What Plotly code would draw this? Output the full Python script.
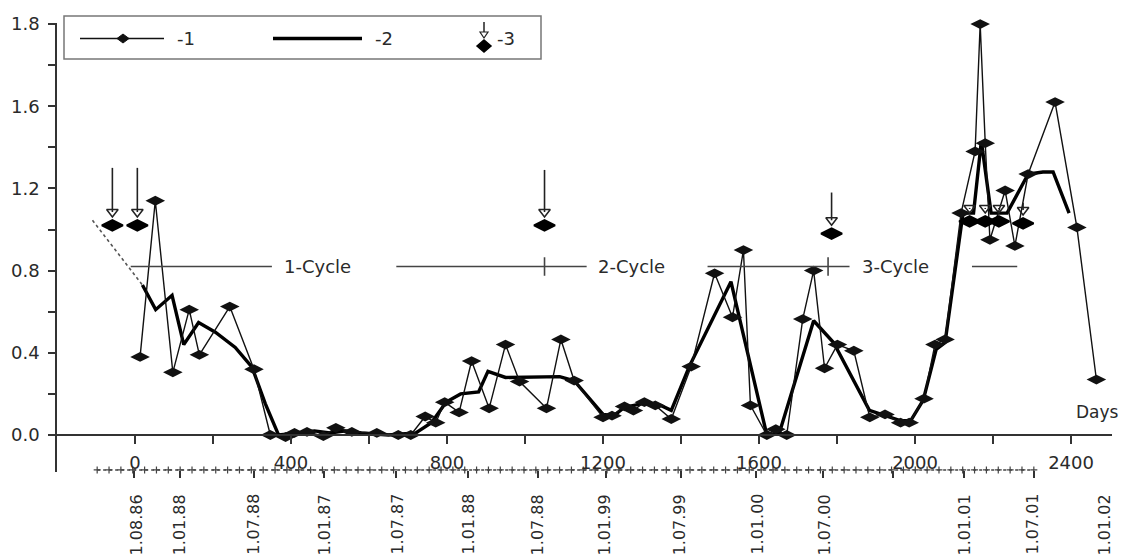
import numpy as np
import plotly.graph_objects as go

# ---------------- data ----------------
# series "-1": thin line with diamond markers (days, value)
s1_days = [13, 52, 97, 139, 165, 243, 305, 347, 386, 409, 441, 483, 515, 556, 620, 675, 707,
           744, 771, 794, 831, 863, 908, 950, 986, 1055, 1092, 1126, 1200, 1223, 1255, 1278,
           1306, 1334, 1375, 1426, 1486, 1532, 1560, 1578, 1620, 1643, 1671, 1712, 1740, 1768,
           1801, 1843, 1884, 1923, 1963, 1985, 2023, 2051, 2077, 2118, 2154, 2167, 2180, 2192,
           2231, 2256, 2290, 2359, 2415, 2465]
s1_vals = [0.38, 1.14, 0.305, 0.61, 0.39, 0.625, 0.32, 0.0, -0.01, 0.01, 0.015, -0.005, 0.035,
           0.015, 0.01, 0.0, 0.0, 0.09, 0.06, 0.16, 0.11, 0.36, 0.13, 0.44, 0.26, 0.13, 0.465,
           0.265, 0.086, 0.094, 0.139, 0.119, 0.16, 0.144, 0.078, 0.333, 0.787, 0.573, 0.90,
           0.144, 0.0, 0.028, 0.0, 0.564, 0.80, 0.325, 0.44, 0.41, 0.086, 0.10, 0.06, 0.06,
           0.177, 0.44, 0.465, 1.08, 1.38, 2.0, 1.42, 0.95, 1.19, 0.92, 1.27, 1.62, 1.01, 0.27]

# series "-2": thick smoothed line
s2_days = [19, 31, 53, 95, 125, 163, 206, 257, 300, 334, 368, 420, 460, 500, 540, 580, 650, 720,
           760, 798, 835, 881, 905, 950, 1000, 1060, 1089, 1126, 1200, 1228, 1255, 1306, 1348,
           1375, 1421, 1528, 1620, 1652, 1740, 1791, 1883, 1962, 1989, 2021, 2054, 2077, 2123,
           2150, 2170, 2195, 2236, 2290, 2328, 2354, 2395]
s2_vals = [0.73, 0.69, 0.61, 0.68, 0.44, 0.547, 0.50, 0.426, 0.33, 0.153, 0.0, 0.01, 0.02, 0.01,
           0.02, 0.01, 0.0, 0.01, 0.06, 0.16, 0.20, 0.21, 0.31, 0.28, 0.28, 0.28, 0.284, 0.264,
           0.10, 0.094, 0.135, 0.155, 0.144, 0.12, 0.333, 0.746, 0.0, 0.01, 0.556, 0.45, 0.12,
           0.07, 0.07, 0.17, 0.416, 0.45, 1.08, 1.08, 1.43, 1.08, 1.08, 1.27, 1.28, 1.28, 1.08]

# dotted extrapolation at the start of series 2
dot_days = [-109, 19]
dot_vals = [1.045, 0.73]

# series "-3": points marked with arrows
s3_days = [-58, 6, 1050, 1786, 2140, 2180, 2215, 2277]
s3_vals = [1.02, 1.02, 1.02, 0.98, 1.04, 1.04, 1.04, 1.03]
s3_arrow_top = [1.30, 1.30, 1.29, 1.18, 1.10, 1.10, 1.10, 1.13]

# cycles
cycle_names = ["1-Cycle", "2-Cycle", "3-Cycle"]
cycle_start = [-11, 670, 1468]
cycle_end = [351, 1158, 1832]
cycle_mark = [None, 1050, 1777]
cycle_text_at = [376, 1182, 1860]
cycle_tail = [2146, 2262]
cycle_level = 0.82

# axis ticks
day_ticks = [0, 200, 400, 600, 800, 1000, 1200, 1400, 1600, 1800, 2000, 2200, 2400]
day_labels = ["0", "", "400", "", "800", "", "1200", "", "1600", "", "2000", "", "2400"]
y_ticks = [0.0, 0.2, 0.4, 0.6, 0.8, 1.0, 1.2, 1.4, 1.6, 1.8, 2.0]
y_labels = ["0.0", "", "0.4", "", "0.8", "", "1.2", "", "1.6", "", "1.8"]

date_tick_days = [-3, 115, 305, 485, 670, 854, 1032, 1207, 1400, 1592, 1765, 1944, 2125, 2305]
date_label_days = [5, 115, 303, 487, 672, 854, 1033, 1205, 1397, 1595, 1769, 2128, 2300, 2487]
date_labels = ["1.08.86", "1.01.88", "1.07.88", "1.01.87", "1.07.87", "1.01.88",
               "1.07.88", "1.01.99", "1.07.99", "1.01.00", "1.07.00", "1.01.01",
               "1.07.01", "1.01.02"]
month_ticks = np.arange(-97, 2314, 30.4)

# ---------------- geometry / style ----------------
W, H = 1123, 558
ML, MR, MT, MB = 57, 11, 23, 86
X_MIN, X_MAX = -200, 2505
Y_MIN, Y_MAX = -0.18, 2.005
DATE_LINE_V = -0.17
FONT = "DejaVu Sans"
TXT = "#2a2a2a"
AX = "#333333"

pw, ph = W - ML - MR, H - MT - MB


def xp(px):
    return (px - ML) / pw


def yp(py):
    return (H - MB - py) / ph


fig = go.Figure()

fig.add_trace(go.Scatter(x=dot_days, y=dot_vals, mode="lines",
                         line=dict(color="#555", width=1.6, dash="dot"),
                         showlegend=False, hoverinfo="skip"))

fig.add_trace(go.Scatter(x=s2_days, y=s2_vals, mode="lines", name="-2",
                         line=dict(color="#000", width=3.4), showlegend=False))

fig.add_trace(go.Scatter(x=s1_days, y=s1_vals, mode="lines+markers", name="-1",
                         line=dict(color="#111", width=1.4),
                         marker=dict(symbol="diamond-wide", size=14, color="#111"),
                         cliponaxis=False, showlegend=False))

# arrows for series 3
head_off = 0.065
shaft_x, shaft_y = [], []
for d, v, top in zip(s3_days, s3_vals, s3_arrow_top):
    shaft_x += [d, d, None]
    shaft_y += [top, v + head_off, None]
fig.add_trace(go.Scatter(x=shaft_x, y=shaft_y, mode="lines",
                         line=dict(color="#222", width=1.6), showlegend=False, hoverinfo="skip"))
fig.add_trace(go.Scatter(x=s3_days, y=[v + head_off for v in s3_vals], mode="markers",
                         marker=dict(symbol="triangle-down-open", size=10, color="#222",
                                     line=dict(width=1.5, color="#222")),
                         showlegend=False, hoverinfo="skip"))
fig.add_trace(go.Scatter(x=s3_days, y=s3_vals, mode="markers", name="-3",
                         marker=dict(symbol="diamond-wide", size=15, color="#000",
                                     line=dict(width=2, color="#000")),
                         showlegend=False))

# date axis dotted line with monthly crosses (on xaxis2)
fig.add_trace(go.Scatter(x=month_ticks, y=[DATE_LINE_V] * len(month_ticks), xaxis="x2",
                         mode="lines+markers",
                         line=dict(color="#444", width=1.4, dash="dot"),
                         marker=dict(symbol="cross-thin", size=5, line=dict(width=1.2, color="#444")),
                         cliponaxis=False, showlegend=False, hoverinfo="skip"))

shapes = []
annotations = []

# cycle lines and labels
for i, name in enumerate(cycle_names):
    shapes.append(dict(type="line", xref="x", yref="y", x0=cycle_start[i], x1=cycle_end[i],
                       y0=cycle_level, y1=cycle_level, line=dict(color="#444", width=1.6)))
    if cycle_mark[i] is not None:
        shapes.append(dict(type="line", xref="x", yref="y", x0=cycle_mark[i], x1=cycle_mark[i],
                           y0=cycle_level - 0.045, y1=cycle_level + 0.045,
                           line=dict(color="#444", width=1.6)))
    annotations.append(dict(x=cycle_text_at[i], y=cycle_level, xref="x", yref="y", text=name,
                            showarrow=False, xanchor="left", yanchor="middle",
                            font=dict(family=FONT, size=18, color=TXT)))
shapes.append(dict(type="line", xref="x", yref="y", x0=cycle_tail[0], x1=cycle_tail[1],
                   y0=cycle_level, y1=cycle_level, line=dict(color="#444", width=1.6)))

# "Days" label
annotations.append(dict(x=xp(1074), y=yp(412), xref="paper", yref="paper", text="Days",
                        showarrow=False, xanchor="left", yanchor="middle",
                        font=dict(family=FONT, size=17, color=TXT)))

# rotated date labels
for d, lab in zip(date_label_days, date_labels):
    annotations.append(dict(x=d, y=yp(492), xref="x", yref="paper", text=lab, showarrow=False,
                            textangle=-90, xanchor="center", yanchor="top",
                            font=dict(family=FONT, size=16, color=TXT)))

# legend (drawn by hand)
ly = 38.5
shapes.append(dict(type="rect", xref="paper", yref="paper", x0=xp(64), x1=xp(541),
                   y0=yp(59), y1=yp(16), line=dict(color="#777", width=1.5)))
shapes.append(dict(type="line", xref="paper", yref="paper", x0=xp(80), x1=xp(164),
                   y0=yp(ly), y1=yp(ly), line=dict(color="#111", width=1.4)))


def diamond_path(cx, cy, hw, hh):
    return (f"M {xp(cx - hw)},{yp(cy)} L {xp(cx)},{yp(cy - hh)} "
            f"L {xp(cx + hw)},{yp(cy)} L {xp(cx)},{yp(cy + hh)} Z")


shapes.append(dict(type="path", xref="paper", yref="paper", path=diamond_path(123, ly, 6, 4.5),
                   fillcolor="#111", line=dict(color="#111", width=1)))
shapes.append(dict(type="line", xref="paper", yref="paper", x0=xp(273), x1=xp(362),
                   y0=yp(ly), y1=yp(ly), line=dict(color="#000", width=3.4)))
shapes.append(dict(type="line", xref="paper", yref="paper", x0=xp(484), x1=xp(484),
                   y0=yp(22), y1=yp(36), line=dict(color="#222", width=1.5)))
shapes.append(dict(type="path", xref="paper", yref="paper",
                   path=f"M {xp(480)},{yp(32)} L {xp(488)},{yp(32)} L {xp(484)},{yp(38)} Z",
                   fillcolor="white", line=dict(color="#222", width=1.2)))
shapes.append(dict(type="path", xref="paper", yref="paper", path=diamond_path(484, 46, 7, 6),
                   fillcolor="#000", line=dict(color="#000", width=1.5)))
for px_, lab in [(175, "-1"), (373, "-2"), (495, "-3")]:
    annotations.append(dict(x=xp(px_), y=yp(ly), xref="paper", yref="paper", text=lab,
                            showarrow=False, xanchor="left", yanchor="middle",
                            font=dict(family=FONT, size=18, color=TXT)))

fig.update_layout(
    width=W, height=H, margin=dict(l=ML, r=MR, t=MT, b=MB),
    template="none", plot_bgcolor="white", paper_bgcolor="white", showlegend=False,
    font=dict(family=FONT, size=18, color=TXT),
    xaxis=dict(range=[X_MIN, X_MAX], anchor="free", position=(0 - Y_MIN) / (Y_MAX - Y_MIN),
               showline=True, linecolor=AX, linewidth=1.5, ticks="outside", ticklen=8,
               tickwidth=1.5, tickcolor=AX, tickvals=day_ticks, ticktext=day_labels,
               showgrid=False, zeroline=False, ticklabelstandoff=4, automargin=False,
               tickfont=dict(family=FONT, size=18, color=TXT)),
    xaxis2=dict(range=[X_MIN, X_MAX], overlaying="x", anchor="free",
                position=(DATE_LINE_V - Y_MIN) / (Y_MAX - Y_MIN),
                tickvals=date_tick_days, ticks="outside", ticklen=7, tickwidth=1.5,
                tickcolor=AX, showticklabels=False, showline=False, showgrid=False,
                zeroline=False, automargin=False),
    yaxis=dict(range=[Y_MIN, Y_MAX], showline=True, linecolor=AX, linewidth=1.5,
               ticks="outside", ticklen=7, tickwidth=1.5, tickcolor=AX,
               tickvals=y_ticks, ticktext=y_labels, showgrid=False, zeroline=False,
               ticklabelstandoff=5, automargin=False,
               tickfont=dict(family=FONT, size=18, color=TXT)),
    shapes=shapes, annotations=annotations,
)

fig.write_html("out.html", config={"displayModeBar": False},
               post_script="document.body.style.margin='0';document.body.style.overflow='hidden';")
